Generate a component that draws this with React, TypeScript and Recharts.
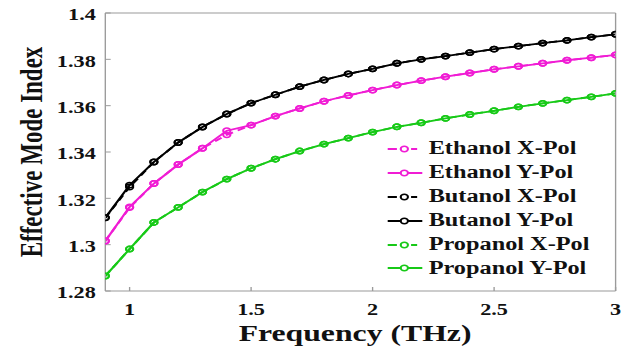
import { LineChart, Line, XAxis, YAxis, Legend, Label } from "recharts";

// frequency sweep in THz
const FREQ = [
  0.9, 1.0, 1.1, 1.2, 1.3, 1.4, 1.5, 1.6, 1.7, 1.8, 1.9, 2.0, 2.1, 2.2, 2.3, 2.4,
  2.5, 2.6, 2.7, 2.8, 2.9, 3.0,
];

const ETHANOL_X = [
  1.3016, 1.316, 1.3264, 1.3346, 1.3416, 1.3474, 1.3516, 1.3555, 1.3588, 1.3619,
  1.3644, 1.3667, 1.3689, 1.3708, 1.3725, 1.3741, 1.3757, 1.377, 1.3783, 1.3796,
  1.3807, 1.3819,
];
const ETHANOL_Y = [
  1.3016, 1.3163, 1.3264, 1.3346, 1.3416, 1.3492, 1.3516, 1.3555, 1.3588, 1.3619,
  1.3644, 1.3667, 1.3689, 1.3708, 1.3725, 1.3741, 1.3757, 1.377, 1.3783, 1.3796,
  1.3807, 1.3819,
];
const BUTANOL_X = [
  1.3116, 1.3249, 1.3357, 1.3441, 1.3508, 1.3564, 1.3611, 1.3647, 1.3682, 1.3711,
  1.3737, 1.3759, 1.3783, 1.38, 1.3814, 1.3829, 1.3844, 1.3857, 1.387, 1.3882,
  1.3896, 1.3908,
];
const BUTANOL_Y = [
  1.3116, 1.3257, 1.3357, 1.3441, 1.3508, 1.3564, 1.3611, 1.3647, 1.3682, 1.3711,
  1.3737, 1.3759, 1.3783, 1.38, 1.3814, 1.3829, 1.3844, 1.3857, 1.387, 1.3882,
  1.3896, 1.3908,
];
const PROPANOL_X = [
  1.2865, 1.2981, 1.3096, 1.3161, 1.3227, 1.3283, 1.333, 1.3369, 1.3404, 1.3434,
  1.346, 1.3486, 1.3509, 1.3526, 1.3545, 1.3562, 1.3578, 1.3595, 1.361, 1.3624,
  1.3638, 1.3653,
];
const PROPANOL_Y = [
  1.2865, 1.2981, 1.3096, 1.3161, 1.3227, 1.3283, 1.333, 1.3369, 1.3404, 1.3434,
  1.346, 1.3486, 1.3509, 1.3526, 1.3545, 1.3562, 1.3578, 1.3595, 1.361, 1.3624,
  1.3638, 1.3653,
];

const X_TICKS = [1, 1.5, 2, 2.5, 3];
const Y_TICKS = [1.28, 1.3, 1.32, 1.34, 1.36, 1.38, 1.4];

const SERIF = "Liberation Serif, Times New Roman, Times, serif";
const MAGENTA = "#f01cd4";
const BLACK = "#000000";
const GREEN = "#17c917";
const FRAME = "#9a9a9a";

// figure is exported with a horizontal stretch, so draw narrow and scale in x
const STRETCH = 1.35;
const W = 470;
const H = 348;

const SERIES = [
  { key: "ethanolX", name: "Ethanol X-Pol", values: ETHANOL_X, color: MAGENTA, dashed: true },
  { key: "ethanolY", name: "Ethanol Y-Pol", values: ETHANOL_Y, color: MAGENTA, dashed: false },
  { key: "butanolX", name: "Butanol X-Pol", values: BUTANOL_X, color: BLACK, dashed: true },
  { key: "butanolY", name: "Butanol Y-Pol", values: BUTANOL_Y, color: BLACK, dashed: false },
  { key: "propanolX", name: "Propanol X-Pol", values: PROPANOL_X, color: GREEN, dashed: true },
  { key: "propanolY", name: "Propanol Y-Pol", values: PROPANOL_Y, color: GREEN, dashed: false },
];

const data = FREQ.map((f, i) => {
  const row: Record<string, number> = { freq: f };
  SERIES.forEach((s) => {
    row[s.key] = s.values[i];
  });
  return row;
});

const fmt = (v: number) => String(parseFloat(v.toFixed(2)));

const tickStyle = { fontSize: 16.5, fontWeight: 700, fill: "#111", fontFamily: SERIF };

function hollowDot(p: any) {
  if (p.cx == null || p.cy == null) return <g key={p.index} />;
  return (
    <circle key={p.index} cx={p.cx} cy={p.cy} r={2.7} fill="none" stroke={p.stroke} strokeWidth={1.5} />
  );
}

function LegendIcon({ color, dashed }: { color: string; dashed: boolean }) {
  return (
    <svg width={26} height={10} style={{ display: "block" }}>
      {dashed ? (
        <>
          <line x1={0} y1={5} x2={7} y2={5} stroke={color} strokeWidth={1.8} />
          <line x1={17.5} y1={5} x2={22} y2={5} stroke={color} strokeWidth={1.8} />
        </>
      ) : (
        <line x1={0} y1={5} x2={26} y2={5} stroke={color} strokeWidth={1.8} />
      )}
      <circle cx={12.5} cy={5} r={2.7} fill="#fff" stroke={color} strokeWidth={1.5} />
    </svg>
  );
}

function SeriesLegend() {
  return (
    <div style={{ fontFamily: SERIF, fontWeight: 700, fontSize: 18, color: "#111" }}>
      {SERIES.map((s) => (
        <div key={s.key} style={{ display: "flex", alignItems: "center", height: 23.9 }}>
          <LegendIcon color={s.color} dashed={s.dashed} />
          <span style={{ marginLeft: 4.5, whiteSpace: "nowrap" }}>{s.name}</span>
        </div>
      ))}
    </div>
  );
}

export default function App() {
  return (
    <div
      style={{
        position: "absolute",
        left: 0,
        top: 0,
        width: W,
        height: H,
        background: "#fff",
        fontFamily: SERIF,
        transform: `scaleX(${STRETCH})`,
        transformOrigin: "0 0",
      }}
    >
      <LineChart width={W} height={H} data={data} margin={{ top: 12, right: 13, bottom: 0, left: 0 }}>
        <XAxis
          dataKey="freq"
          type="number"
          domain={[0.9, 3]}
          ticks={X_TICKS}
          allowDataOverflow
          height={57}
          stroke={FRAME}
          tickSize={-4}
          tickMargin={16}
          tick={tickStyle}
        >
          <Label
            content={(p: any) => {
              const vb = p.viewBox;
              return (
                <text
                  x={vb.x + vb.width / 2 - 4}
                  y={vb.y + 50}
                  textAnchor="middle"
                  fontFamily={SERIF}
                  fontWeight={700}
                  fontSize={23.5}
                  fill="#111"
                >
                  Frequency (THz)
                </text>
              );
            }}
          />
        </XAxis>
        <XAxis
          xAxisId="top"
          orientation="top"
          type="number"
          dataKey="freq"
          domain={[0.9, 3]}
          ticks={X_TICKS}
          allowDataOverflow
          height={1}
          stroke={FRAME}
          tickSize={-4}
          tick={false}
        />
        <YAxis
          type="number"
          domain={[1.28, 1.4]}
          ticks={Y_TICKS}
          allowDataOverflow
          width={78}
          stroke={FRAME}
          tickSize={-4}
          tickMargin={11}
          tickFormatter={fmt}
          tick={{ ...tickStyle, dy: 1.5 }}
        >
          <Label
            content={(p: any) => {
              const vb = p.viewBox;
              const cx = 31;
              const cy = vb.y + vb.height / 2;
              return (
                <text
                  x={cx}
                  y={cy}
                  transform={`rotate(-90 ${cx} ${cy})`}
                  textAnchor="middle"
                  fontFamily={SERIF}
                  fontWeight={700}
                  fontSize={23}
                  fill="#111"
                >
                  Effective Mode Index
                </text>
              );
            }}
          />
        </YAxis>
        <YAxis
          yAxisId="right"
          orientation="right"
          type="number"
          domain={[1.28, 1.4]}
          ticks={Y_TICKS}
          allowDataOverflow
          width={1}
          stroke={FRAME}
          tickSize={-4}
          tick={false}
        />
        <Legend
          layout="vertical"
          align="center"
          verticalAlign="middle"
          wrapperStyle={{ left: 287, top: 137, width: "auto" }}
          content={() => <SeriesLegend />}
        />
        {SERIES.map((s) => (
          <Line
            key={s.key}
            dataKey={s.key}
            name={s.name}
            type="linear"
            stroke={s.color}
            strokeWidth={1.8}
            strokeDasharray={s.dashed ? "6 4" : undefined}
            dot={hollowDot}
            activeDot={false}
            isAnimationActive={false}
          />
        ))}
      </LineChart>
    </div>
  );
}
